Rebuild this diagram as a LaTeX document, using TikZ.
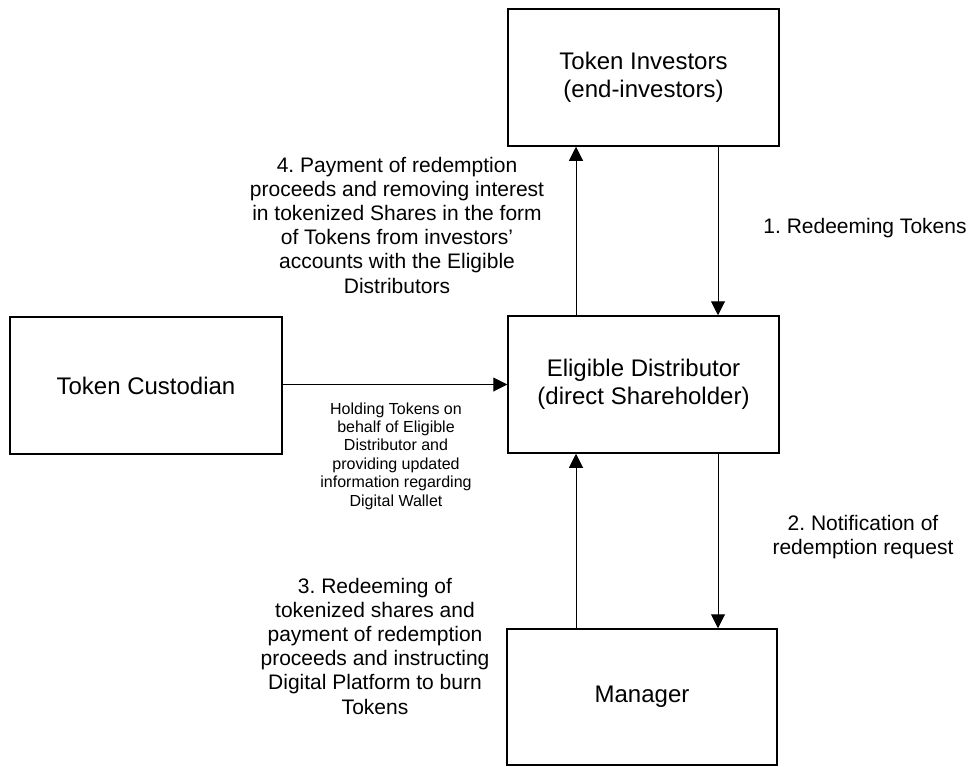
\documentclass[tikz,border=0pt]{standalone}
\usepackage{fontspec}
\setmainfont{Liberation Sans}
\usetikzlibrary{arrows.meta}
\frenchspacing
\begin{document}
\begin{tikzpicture}[x=1pt,y=-1pt,
  box/.style={draw,line width=1.5pt,minimum width=271pt,minimum height=137pt,inner sep=0pt,align=center,font=\fontsize{24}{27.6}\selectfont},
  lbl/.style={align=center,inner sep=0pt,font=\fontsize{21}{24.2}\selectfont},
  smalllbl/.style={align=center,inner sep=0pt,font=\fontsize{16}{18.4}\selectfont},
  arr/.style={line width=1pt,-{Triangle[length=14pt,width=14pt]}}]
\useasboundingbox (0,0) rectangle (974,766);
\node[box] (inv) at (643.5,77.5) {Token Investors\\(end-investors)};
\node[box] (ed) at (643.5,384.5) {Eligible Distributor\\(direct Shareholder)};
\node[box,minimum width=272pt] (cust) at (146,385.5) {Token Custodian};
\node[box,minimum width=270pt,minimum height=136pt] (man) at (642,697) {Manager};
% arrows
\draw[arr] ([xshift=74.5pt]inv.south) -- ([xshift=74.5pt]ed.north);
\draw[arr] ([xshift=-67.5pt]ed.north) -- ([xshift=-67.5pt]inv.south);
\draw[arr] (cust.east |- ed.west) -- (ed.west);
\draw[arr] ([xshift=74.5pt]ed.south) -- ([xshift=76pt]man.north);
\draw[arr] ([xshift=-66pt]man.north) -- ([xshift=-67.5pt]ed.south);
% labels
\node[lbl] (l4) at (397,225) {4. Payment of redemption\\proceeds and removing interest\\in tokenized Shares in the form\\of Tokens from investors’\\accounts with the Eligible\\Distributors};
\node[lbl] (l1) at (865,228) {1. Redeeming Tokens};
\node[lbl] (l2) at (863,537) {2. Notification of\\redemption request};
\node[lbl] (l3) at (375,646) {3. Redeeming of\\tokenized shares and\\payment of redemption\\proceeds and instructing\\Digital Platform to burn\\Tokens};
\node[smalllbl] (lh) at (396,456) {Holding Tokens on\\behalf of Eligible\\Distributor and\\providing updated\\information regarding\\Digital Wallet};
\end{tikzpicture}
\end{document}
